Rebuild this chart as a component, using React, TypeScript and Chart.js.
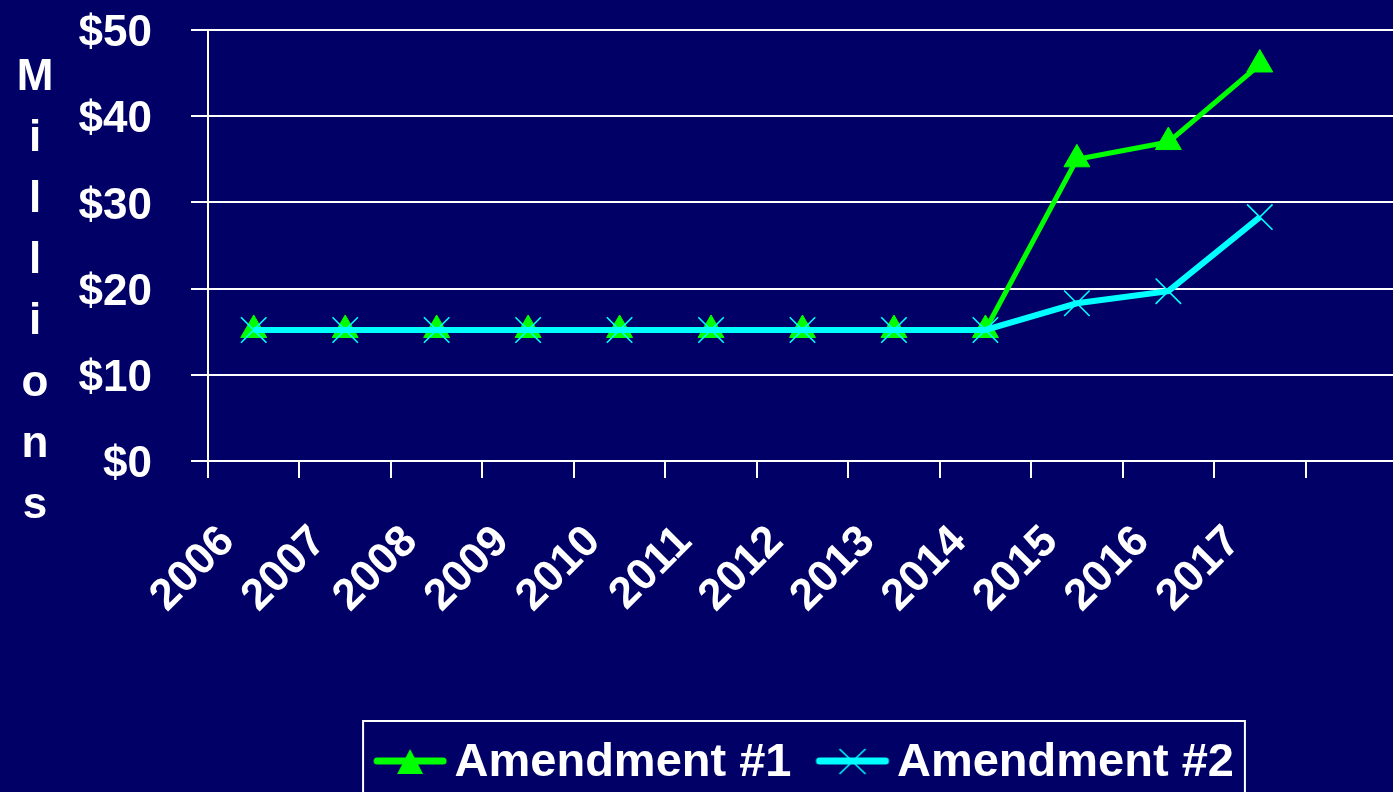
import React, { useEffect, useRef } from 'react';
import { Chart, registerables } from 'chart.js';

Chart.register(...registerables);

// ---- data ----
const years = ['2006', '2007', '2008', '2009', '2010', '2011', '2012', '2013', '2014', '2015', '2016', '2017', ''];
const amendment1 = [15.2, 15.2, 15.2, 15.2, 15.2, 15.2, 15.2, 15.2, 15.2, 35.0, 37.0, 46.0];
const amendment2 = [15.2, 15.2, 15.2, 15.2, 15.2, 15.2, 15.2, 15.2, 15.2, 18.3, 19.7, 28.3];
const seriesNames = ['Amendment #1', 'Amendment #2'];
const yMin = 0;
const yMax = 50;
const yStep = 10;
const axisTitleLetters = ['M', 'i', 'l', 'l', 'i', 'o', 'n', 's'];

const BG = '#000066';
const GREEN = '#00ff00';
const CYAN = '#00ffff';
const WHITE = '#ffffff';
const FONT = '"Liberation Sans", Arial, Helvetica, sans-serif';

const ICON_W = 96;
const ICON_H = 30;

function makeIcon(color: string, kind: 'triangle' | 'cross'): HTMLCanvasElement {
  const c = document.createElement('canvas');
  c.width = ICON_W;
  c.height = ICON_H;
  const g = c.getContext('2d')!;
  const x0 = 24;
  const x1 = 90;
  const cx = (x0 + x1) / 2;
  const cy = 13;
  g.strokeStyle = color;
  g.lineWidth = 7;
  g.lineCap = 'round';
  g.beginPath();
  g.moveTo(x0, cy);
  g.lineTo(x1, cy);
  g.stroke();
  if (kind === 'triangle') {
    g.fillStyle = color;
    g.beginPath();
    g.moveTo(cx, 1);
    g.lineTo(cx + 13, 26);
    g.lineTo(cx - 13, 26);
    g.closePath();
    g.fill();
  } else {
    g.lineWidth = 1.6;
    g.lineCap = 'butt';
    g.beginPath();
    g.moveTo(cx - 13, 1);
    g.lineTo(cx + 13, 26);
    g.moveTo(cx + 13, 1);
    g.lineTo(cx - 13, 26);
    g.stroke();
  }
  return c;
}

function zeroPadding(scale: any) {
  scale.paddingTop = 0;
  scale.paddingBottom = 0;
  scale.paddingLeft = 0;
  scale.paddingRight = 0;
}

export default function App() {
  const ref = useRef<HTMLCanvasElement>(null);

  useEffect(() => {
    const canvas = ref.current!;
    const icons = [makeIcon(GREEN, 'triangle'), makeIcon(CYAN, 'cross')];

    const bgPlugin = {
      id: 'bgFill',
      beforeDraw(chart: any) {
        const ctx = chart.ctx;
        ctx.save();
        ctx.fillStyle = BG;
        ctx.fillRect(0, 0, chart.width, chart.height);
        ctx.restore();
      },
    };

    const millionsPlugin = {
      id: 'millionsTitle',
      afterDraw(chart: any) {
        const ctx = chart.ctx;
        ctx.save();
        ctx.fillStyle = WHITE;
        ctx.font = `bold 44px ${FONT}`;
        ctx.textAlign = 'center';
        ctx.textBaseline = 'alphabetic';
        axisTitleLetters.forEach((ch, i) => {
          ctx.fillText(ch, 35, 90 + i * 61.1);
        });
        ctx.restore();
      },
    };

    const legendBoxPlugin = {
      id: 'legendBox',
      afterDraw(chart: any) {
        const lg = chart.legend;
        if (!lg || !lg.legendHitBoxes || !lg.legendHitBoxes.length) return;
        const hb = lg.legendHitBoxes;
        let left = Infinity;
        let right = -Infinity;
        hb.forEach((b: any) => {
          left = Math.min(left, b.left);
          right = Math.max(right, b.left + b.width);
        });
        const cy = hb[0].top + hb[0].height / 2;
        const ctx = chart.ctx;
        ctx.save();
        ctx.strokeStyle = WHITE;
        ctx.lineWidth = 2;
        ctx.strokeRect(left - 8, cy - 42, right - left + 8 + 11, 140);
        ctx.restore();
      },
    };

    const chart = new Chart(canvas, {
      type: 'line',
      data: {
        labels: years,
        datasets: [
          {
            label: seriesNames[0],
            data: amendment1,
            borderColor: GREEN,
            backgroundColor: GREEN,
            borderWidth: 5,
            pointStyle: 'triangle',
            pointRadius: 15,
            pointHoverRadius: 15,
            pointBackgroundColor: GREEN,
            pointBorderColor: GREEN,
            pointBorderWidth: 1,
            tension: 0,
            fill: false,
            order: 2,
          },
          {
            label: seriesNames[1],
            data: amendment2,
            borderColor: CYAN,
            backgroundColor: CYAN,
            borderWidth: 6,
            pointStyle: 'crossRot',
            pointRadius: 18,
            pointHoverRadius: 18,
            pointBackgroundColor: CYAN,
            pointBorderColor: CYAN,
            pointBorderWidth: 1.6,
            tension: 0,
            fill: false,
            order: 1,
          },
        ],
      },
      options: {
        responsive: false,
        animation: false,
        events: [],
        layout: { autoPadding: false, padding: { top: 30, left: 0, right: 0, bottom: -4.5 } },
        scales: {
          x: {
            type: 'category',
            offset: true,
            grid: {
              offset: true,
              drawOnChartArea: false,
              drawTicks: true,
              tickLength: 17,
              color: WHITE,
              lineWidth: 2,
            },
            border: { display: true, color: WHITE, width: 2 },
            ticks: {
              color: WHITE,
              font: { family: FONT, size: 44, weight: 'bold' },
              minRotation: 45,
              maxRotation: 45,
              autoSkip: false,
              padding: 38,
              labelOffset: -26,
            },
            afterFit: (scale: any) => {
              scale.height = 256.5;
              zeroPadding(scale);
            },
          },
          y: {
            min: yMin,
            max: yMax,
            grid: {
              color: WHITE,
              lineWidth: 2,
              drawTicks: true,
              tickLength: 17,
            },
            border: { display: true, color: WHITE, width: 2 },
            ticks: {
              stepSize: yStep,
              color: WHITE,
              padding: 39,
              labelOffset: 4,
              font: { family: FONT, size: 44, weight: 'bold' },
              callback: (v: any) => '$' + v,
            },
            afterFit: (scale: any) => {
              scale.width = 208;
              zeroPadding(scale);
            },
          },
        },
        plugins: {
          title: { display: false },
          tooltip: { enabled: false },
          legend: {
            display: true,
            position: 'bottom',
            fullSize: false,
            labels: {
              color: WHITE,
              font: { family: FONT, size: 47, weight: 'bold' },
              usePointStyle: true,
              pointStyleWidth: 60,
              padding: 22,
              generateLabels: (ch: any) => {
                const items = Chart.defaults.plugins.legend.labels.generateLabels(ch);
                items.sort((a: any, b: any) => a.datasetIndex - b.datasetIndex);
                return items.map((it: any) => ({
                  ...it,
                  pointStyle: icons[it.datasetIndex],
                  lineWidth: 0,
                  strokeStyle: 'rgba(0,0,0,0)',
                  fontColor: WHITE,
                }));
              },
            },
          },
        },
      } as any,
      plugins: [bgPlugin, millionsPlugin, legendBoxPlugin],
    });

    return () => {
      chart.destroy();
    };
  }, []);

  return (
    <div
      style={{
        position: 'fixed',
        left: 0,
        top: 0,
        width: 1393,
        height: 792,
        overflow: 'hidden',
        background: BG,
      }}
    >
      <canvas ref={ref} width={1397} height={792} style={{ display: 'block' }} />
    </div>
  );
}
